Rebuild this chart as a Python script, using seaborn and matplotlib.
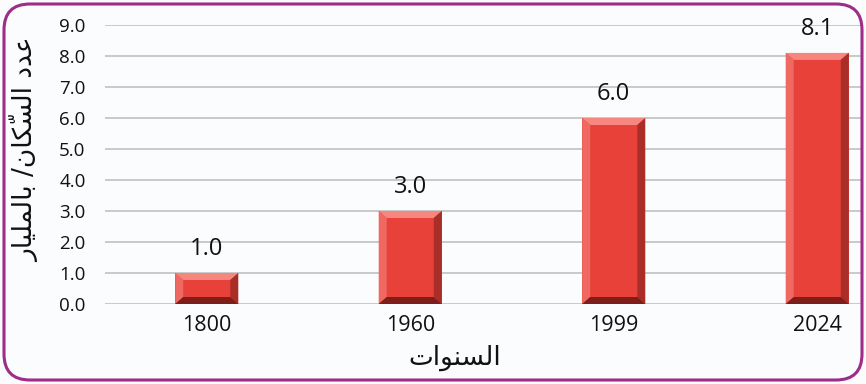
import matplotlib
matplotlib.use("Agg")
import matplotlib.pyplot as plt
import seaborn as sns
import pandas as pd
from matplotlib.patches import Polygon, FancyBboxPatch

years = ["1800", "1960", "1999", "2024"]
population = [1.0, 3.0, 6.0, 8.1]
y_ticks = [0, 1, 2, 3, 4, 5, 6, 7, 8, 9]

# Arabic labels written in shaped presentation forms, visual (left-to-right) order
x_label = "\uFE95\uFE8D\uFEEE\uFEE8\uFEB4\uFEDF\uFE8D"            # السنوات
y_label = ("\uFEAD\uFE8E\uFEF4\uFEE0\uFEE4\uFEDF\uFE8E\uFE91"     # بالمليار
           " /"
           "\uFEE5\uFE8E\uFEDC\u0651\uFEB4\uFEDF\uFE8D"           # السكّان
           " "
           "\uFEA9\uFEAA\uFECB")                                  # عدد

df = pd.DataFrame({"year": years, "population": population})

sns.set_theme(style="white")
plt.rcParams["font.family"] = ["Open Sans", "DejaVu Sans"]

W, H, DPI = 866, 384, 100
fig = plt.figure(figsize=(W / DPI, H / DPI), dpi=DPI, facecolor="#FBFCFD")
ax = fig.add_axes([105 / W, 1 - 304 / H, (862 - 105) / W, (304 - 25) / H])
ax.set_facecolor("none")

face = "#E8413A"
sns.barplot(data=df, x="year", y="population", color=face, saturation=1,
            width=0.31, ax=ax, zorder=3, edgecolor="none")

ax.set_ylim(0, 9)
ax.set_xlim(-0.5, 3.22)
ax.set_yticks(y_ticks)
ax.set_yticklabels([f"{v:.1f}" for v in y_ticks])
ax.yaxis.grid(True, color="#C9C9C9", linewidth=1.4, zorder=0)
ax.xaxis.grid(False)
for s in ax.spines.values():
    s.set_visible(False)
ax.tick_params(axis="y", length=0, pad=14, labelsize=13.5, labelcolor="#111111")
ax.tick_params(axis="x", length=0, pad=8, labelsize=15.5, labelcolor="#111111")
ax.set_xlabel("")
ax.set_ylabel("")

# bevelled bar edges, sized in pixels
fig.canvas.draw()
inv = ax.transData.inverted()
p0 = inv.transform((0, 0))
p1 = inv.transform((8, 7))
dx, dy = p1[0] - p0[0], p1[1] - p0[1]
bevel_cols = {"top": "#F5877F", "left": "#EF6962", "right": "#A92E28", "bottom": "#7E1D19"}
for bar, val in zip(ax.patches, population):
    x0 = bar.get_x()
    x1 = x0 + bar.get_width()
    y0 = 0
    y1 = val
    polys = {
        "top": [(x0, y1), (x1, y1), (x1 - dx, y1 - dy), (x0 + dx, y1 - dy)],
        "left": [(x0, y0), (x0, y1), (x0 + dx, y1 - dy), (x0 + dx, y0 + dy)],
        "right": [(x1, y0), (x1, y1), (x1 - dx, y1 - dy), (x1 - dx, y0 + dy)],
        "bottom": [(x0, y0), (x1, y0), (x1 - dx, y0 + dy), (x0 + dx, y0 + dy)],
    }
    for k, pts in polys.items():
        ax.add_patch(Polygon(pts, closed=True, facecolor=bevel_cols[k],
                             edgecolor="none", zorder=4))
    ax.text(x0 + bar.get_width() / 2, val + 0.38, f"{val:.1f}", ha="center",
            va="bottom", fontsize=17, color="#111111", zorder=5)

fig.text(455 / W, 1 - 358 / H, x_label, ha="center", va="center",
         fontsize=19, family="DejaVu Sans", color="#111111")
fig.text(25 / W, 1 - 150 / H, y_label, ha="center", va="center", rotation=90,
         fontsize=19, family="DejaVu Sans", color="#111111")

border = FancyBboxPatch((4 / W, 4 / H), (W - 8) / W, (H - 8) / H,
                        boxstyle="round,pad=0,rounding_size=0.03",
                        transform=fig.transFigure, facecolor="none",
                        edgecolor="#9E2C89", linewidth=2.2, zorder=10,
                        mutation_aspect=W / H)
fig.patches.append(border)

fig.savefig("out.png", dpi=DPI, facecolor=fig.get_facecolor())
